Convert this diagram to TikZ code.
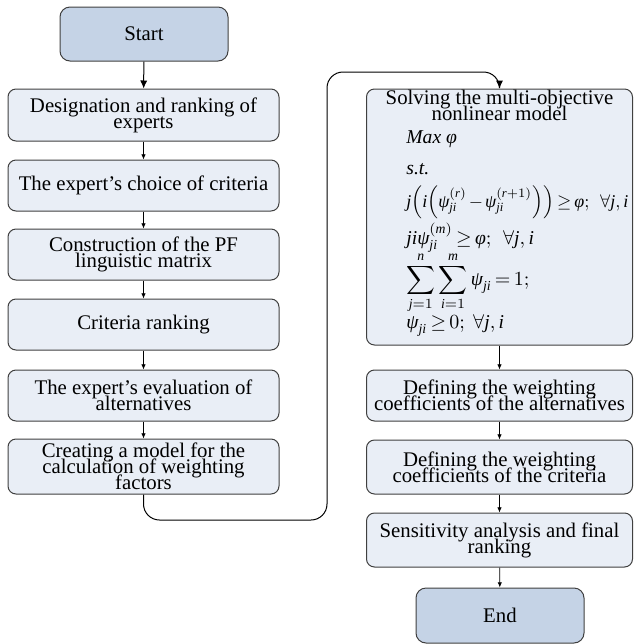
\documentclass[tikz,border=0pt]{standalone}
\usepackage{amsmath}
\usepackage{fontspec}
\setmainfont{Liberation Serif}
\usetikzlibrary{arrows.meta}
\definecolor{termfill}{HTML}{C5D3E6}
\definecolor{boxfill}{HTML}{E9EEF6}
\definecolor{edge}{HTML}{404040}
\newcommand\ti[1]{\text{\itshape #1}}
\newcommand\tightfont{\fontsize{10.4pt}{8pt}\selectfont\lineskiplimit=-20pt\lineskip=0pt}
\newcommand\mathfnt{\fontsize{9.8pt}{12pt}\selectfont\medmuskip=2mu plus 1mu\thickmuskip=3mu plus 2mu}
\tikzset{
  px/.style={x=0.5pt,y=-0.5pt},
  stepbox/.style={draw=edge, line width=0.5pt, fill=boxfill, rounded corners=4pt,
    align=center, inner sep=0pt, font=\tightfont},
  termbox/.style={stepbox, fill=termfill, rounded corners=5pt},
  big/.style={-{Latex[length=4pt,width=3.6pt]}, line width=0.5pt},
  small/.style={-{Latex[length=2.6pt,width=2.2pt]}, line width=0.4pt},
  mathline/.style={anchor=base west, inner sep=0pt, font=\mathfnt}
}
\begin{document}
\begin{tikzpicture}[px]
\useasboundingbox (0,0) rectangle (634,644);
% left column
\node[termbox, minimum width=84pt, minimum height=27pt] (start) at (144,34) {Start};
\node[stepbox, minimum width=135.5pt, minimum height=26pt] (b1) at (143.5,115) {Designation and ranking of\\experts};
\node[stepbox, minimum width=135.5pt, minimum height=25.5pt] (b2) at (143.5,185.5) {The expert's choice of criteria};
\node[stepbox, minimum width=135.5pt, minimum height=25.5pt] (b3) at (143.5,254.5) {Construction of the PF\\linguistic matrix};
\node[stepbox, minimum width=135.5pt, minimum height=25.5pt] (b4) at (143.5,324.5) {Criteria ranking};
\node[stepbox, minimum width=135.5pt, minimum height=25.5pt] (b5) at (143.5,395.5) {The expert's evaluation of\\alternatives};
\node[stepbox, minimum width=135.5pt, minimum height=27.5pt] (b6) at (143.5,466.5) {Creating a model for the\\calculation of weighting\\factors};
% right column
\node[stepbox, minimum width=133pt, minimum height=128pt] (solve) at (499.5,217) {};
\node[anchor=base, inner sep=0pt, font=\tightfont, align=center] (solvetitle) at (499.5,120) {Solving the multi-objective\\nonlinear model};
\node[mathline] (m1) at (406,143) {$\ti{Max}\ \ti{φ}$};
\node[mathline] (m2) at (406,174) {$\ti{s.t.}$};
\node[mathline] (m3) at (406,207) {\resizebox{111pt}{!}{$\ti{j}\Bigl(\ti{i}\Bigl(\ti{ψ}_{\ti{ji}}^{(\ti{r})}-\ti{ψ}_{\ti{ji}}^{(\ti{r}+1)}\Bigr)\Bigr)\geq\ti{φ};\ \,\forall\ti{j},\ti{i}$}};
\node[mathline] (m4) at (406,244) {$\ti{jiψ}_{\ti{ji}}^{(\ti{m})}\geq\ti{φ};\ \,\forall\ti{j},\ti{i}$};
\node[mathline] (m5) at (406,285) {$\displaystyle\sum_{\ti{j}=1}^{\ti{n}}\sum_{\ti{i}=1}^{\ti{m}}\ti{ψ}_{\ti{ji}}=1;$};
\node[mathline] (m6) at (406,328) {$\ti{ψ}_{\ti{ji}}\geq 0;\ \forall\ti{j},\ti{i}$};
\node[stepbox, minimum width=133pt, minimum height=25.5pt] (r1) at (499.5,395.5) {Defining the weighting\\coefficients of the alternatives};
\node[stepbox, minimum width=133pt, minimum height=27pt] (r2) at (499.5,467) {Defining the weighting\\coefficients of the criteria};
\node[stepbox, minimum width=133pt, minimum height=27pt] (r3) at (499.5,540) {Sensitivity analysis and final\\ranking};
\node[termbox, minimum width=84pt, minimum height=27.5pt] (end) at (500,615.5) {End};
% connectors
\draw[big] (start) -- (b1);
\draw[small] (b1) -- (b2);
\draw[small] (b2) -- (b3);
\draw[small] (b3) -- (b4);
\draw[small] (b4) -- (b5);
\draw[small] (b5) -- (b6);
\coordinate (c1) at (327,520);
\coordinate (c2) at (327,72);
\draw[big, rounded corners=8pt] (b6.south) |- (c1) -- (c2) -| (solve.north);
\draw[small] (solve) -- (r1);
\draw[small] (r1) -- (r2);
\draw[small] (r2) -- (r3);
\draw[small] (r3) -- (end);
\end{tikzpicture}
\end{document}
